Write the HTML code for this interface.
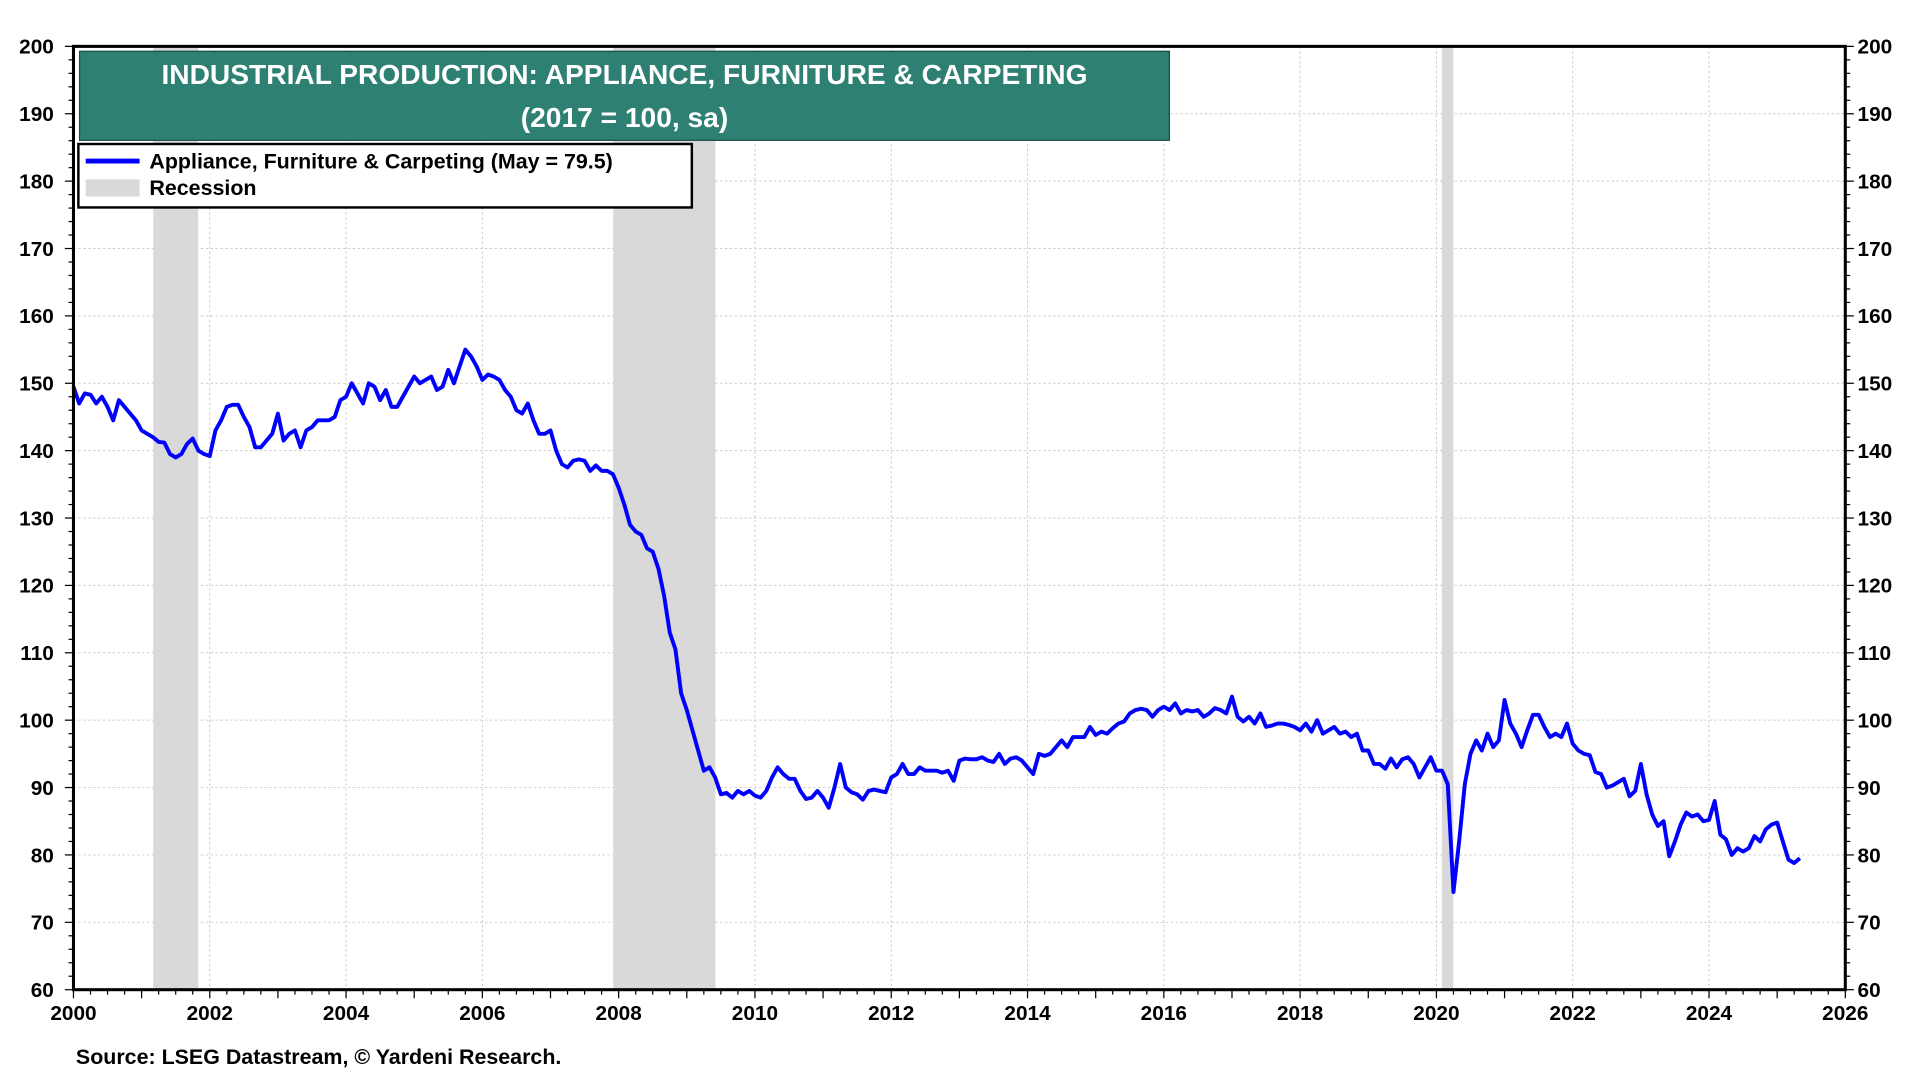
<!DOCTYPE html>
<html><head><meta charset="utf-8"><style>
html,body{margin:0;padding:0;background:#fff;width:1920px;height:1080px;overflow:hidden}
svg{display:block}
text{font-family:"Liberation Sans",Arial,sans-serif;font-weight:bold}
</style></head><body>
<svg id="chart" width="1920" height="1080" viewBox="0 0 1568 885" preserveAspectRatio="none" xmlns="http://www.w3.org/2000/svg">
<g id="grid"></g>
<g id="rec"></g>
<g id="series"></g>
<rect x="60" y="38" width="1447" height="773" fill="none" stroke="#000" stroke-width="2.5"/>
<g id="axes"></g>
<g>
<rect x="65" y="42" width="890" height="73" fill="#2e8072" stroke="#1a4d44" stroke-width="1"/>
<text x="510" y="69" text-anchor="middle" fill="#fff" font-size="23">INDUSTRIAL PRODUCTION: APPLIANCE, FURNITURE &amp; CARPETING</text>
<text x="510" y="104" text-anchor="middle" fill="#fff" font-size="23">(2017 = 100, sa)</text>
</g>
<g>
<rect x="64" y="118" width="501" height="52" fill="#fff" stroke="#000" stroke-width="2"/>
<line x1="70" y1="132" x2="114" y2="132" stroke="#0000ff" stroke-width="4"/>
<text x="122" y="138" font-size="17.5">Appliance, Furniture &amp; Carpeting (May = 79.5)</text>
<rect x="70" y="147" width="44" height="14" fill="#d9d9d9"/>
<text x="122" y="160" font-size="17.5">Recession</text>
</g>
<text x="62" y="872" font-size="17.5">Source: LSEG Datastream, © Yardeni Research.</text>
</svg>
<script>
const startYear = 2000;
const yTicks = [60,70,80,90,100,110,120,130,140,150,160,170,180,190,200];
const xTickYears = [2000,2002,2004,2006,2008,2010,2012,2014,2016,2018,2020,2022,2024,2026];
const recessionStarts = [2001.17, 2007.92, 2020.08];
const recessionEnds = [2001.83, 2009.42, 2020.25];
const values = [
149.5,147,148.5,148.3,147,148,146.5,144.5,147.5,146.5,145.5,144.5,
143,142.5,142,141.3,141.2,139.5,139,139.5,141,141.8,140,139.5,
139.2,143,144.5,146.5,146.8,146.8,145,143.5,140.5,140.5,141.5,142.5,
145.5,141.5,142.5,143,140.5,143,143.5,144.5,144.5,144.5,145,147.5,
148,150,148.5,147,150,149.5,147.5,149,146.5,146.5,148,149.5,
151,150,150.5,151,149,149.5,152,150,152.5,155,154,152.5,
150.5,151.3,151,150.5,149,148,146,145.5,147,144.5,142.5,142.5,
143,140,138,137.5,138.5,138.7,138.5,137,137.8,137,137,136.5,
134.5,132,129,128,127.5,125.5,125,122.5,118.5,113,110.5,104,
101.5,98.5,95.5,92.5,93,91.5,89,89.2,88.5,89.5,89,89.5,
88.8,88.5,89.5,91.5,93,92,91.3,91.3,89.5,88.3,88.5,89.5,
88.5,87,90,93.5,90,89.3,89,88.2,89.5,89.7,89.5,89.3,
91.5,92,93.5,92,92,93,92.5,92.5,92.5,92.2,92.5,91,
94,94.3,94.2,94.2,94.5,94,93.8,95,93.5,94.3,94.5,94,
93,92,95,94.7,95,96,97,96,97.5,97.5,97.5,99,
97.8,98.3,98,98.8,99.5,99.8,101,101.5,101.7,101.5,100.5,101.5,
102,101.5,102.5,101,101.5,101.3,101.5,100.5,101,101.8,101.5,101,
103.5,100.5,99.8,100.5,99.5,101,99,99.2,99.5,99.5,99.3,99,
98.5,99.5,98.3,100,98,98.5,99,98,98.3,97.5,98,95.5,
95.5,93.5,93.5,92.8,94.3,93,94.2,94.5,93.5,91.5,93,94.5,
92.5,92.5,90.5,74.5,82,90.5,95,97,95.5,98,96,97,
103,99.5,98,96,98.5,100.8,100.8,99,97.5,98,97.5,99.5,
96.5,95.5,95,94.8,92.3,92,90,90.3,90.8,91.3,88.7,89.5,
93.5,89,86,84.3,85,79.8,82,84.5,86.3,85.7,86,85,
85.2,88,83,82.3,80,81,80.5,81,82.8,82,83.8,84.5,
84.8,82,79.3,78.8,79.5
];
const L=60,R=1507,T=38,B=811;
const X=t=>L+(t-2000)/26*(R-L);
const Y=v=>B-(v-60)/140*(B-T);
const NS="http://www.w3.org/2000/svg";
function mk(tag,parent,attrs){const e=document.createElementNS(NS,tag);for(const k in attrs)e.setAttribute(k,attrs[k]);parent.appendChild(e);return e;}
const grid=document.getElementById('grid'),rec=document.getElementById('rec'),ser=document.getElementById('series'),axes=document.getElementById('axes');
yTicks.forEach(v=>{
  const g=mk('line',grid,{x1:L,x2:R,y1:Y(v),y2:Y(v),stroke:'#ccc','stroke-width':0.8,'stroke-dasharray':'2,2'});
  
  
  const t1=mk('text',axes,{x:L-16,y:Y(v)+6,'text-anchor':'end','font-size':17});
  t1.textContent=v;
  
  
  const t2=mk('text',axes,{x:R+10,y:Y(v)+6,'text-anchor':'start','font-size':17});
  t2.textContent=v;
  
  
});
for(let v=60;v<=200;v+=2){
  const w=v%10===0?7:4;
  mk('line',axes,{x1:L-w,x2:L,y1:Y(v),y2:Y(v),stroke:'#000','stroke-width':1});
  mk('line',axes,{x1:R,x2:R+w,y1:Y(v),y2:Y(v),stroke:'#000','stroke-width':1});
}
xTickYears.forEach(yr=>{
  if(yr>2000&&yr<2026){
    const g=mk('line',grid,{x1:X(yr),x2:X(yr),y1:T,y2:B,stroke:'#ccc','stroke-width':0.8,'stroke-dasharray':'2,2'});
    
    
  }
  const t=mk('text',axes,{x:X(yr),y:B+25,'text-anchor':'middle','font-size':17});
  t.textContent=yr;
  
  
});
for(let q=0;q<=26*4;q++){
  const t=2000+q/4;
  const h=q%4===0?7:4;
  mk('line',axes,{x1:X(t),x2:X(t),y1:B,y2:B+h,stroke:'#000','stroke-width':1});
}
recessionStarts.forEach((s,i)=>{
  const r=mk('rect',rec,{x:X(s),y:T,width:X(recessionEnds[i])-X(s),height:B-T,fill:'#d9d9d9'});
  
  
});
const pts=values.map((v,i)=>X(startYear+i/12).toFixed(2)+','+Y(v).toFixed(2)).join(' ');
const line=mk('polyline',ser,{points:pts,fill:'none',stroke:'#0000ff','stroke-width':3.2,'stroke-linejoin':'round'});


</script>
</body></html>
